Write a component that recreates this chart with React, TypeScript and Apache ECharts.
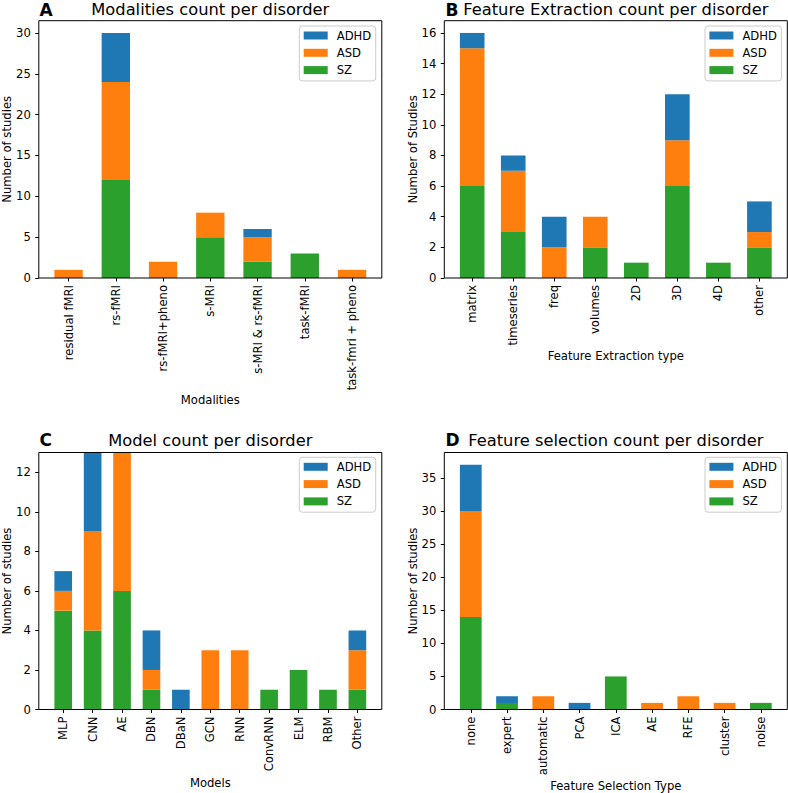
import React, { useEffect, useRef } from "react";
import * as echarts from "echarts";

// ---------- data ----------
const stackOrder = ["SZ", "ASD", "ADHD"];
const legendOrder = ["ADHD", "ASD", "SZ"];
const colorOf: Record<string, string> = { ADHD: "#1f77b4", ASD: "#ff7f0e", SZ: "#2ca02c" };

// A: modalities
const modalityCategories = ["residual fMRI", "rs-fMRI", "rs-fMRI+pheno", "s-MRI", "s-MRI & rs-fMRI", "task-fMRI", "task-fmri + pheno"];
const modalitySZ = [0, 12, 0, 5, 2, 3, 0];
const modalityASD = [1, 12, 2, 3, 3, 0, 1];
const modalityADHD = [0, 6, 0, 0, 1, 0, 0];
const modalityTicks = [0, 5, 10, 15, 20, 25, 30];

// B: feature extraction
const extractionCategories = ["matrix", "timeseries", "freq", "volumes", "2D", "3D", "4D", "other"];
const extractionSZ = [6, 3, 0, 2, 1, 6, 1, 2];
const extractionASD = [9, 4, 2, 2, 0, 3, 0, 1];
const extractionADHD = [1, 1, 2, 0, 0, 3, 0, 2];
const extractionTicks = [0, 2, 4, 6, 8, 10, 12, 14, 16];

// C: models
const modelCategories = ["MLP", "CNN", "AE", "DBN", "DBaN", "GCN", "RNN", "ConvRNN", "ELM", "RBM", "Other"];
const modelSZ = [5, 4, 6, 1, 0, 0, 0, 1, 2, 1, 1];
const modelASD = [1, 5, 7, 1, 0, 3, 3, 0, 0, 0, 2];
const modelADHD = [1, 4, 0, 2, 1, 0, 0, 0, 0, 0, 1];
const modelTicks = [0, 2, 4, 6, 8, 10, 12];

// D: feature selection
const selectionCategories = ["none", "expert", "automatic", "PCA", "ICA", "AE", "RFE", "cluster", "noise"];
const selectionSZ = [14, 1, 0, 0, 5, 0, 0, 0, 1];
const selectionASD = [16, 0, 2, 0, 0, 1, 2, 1, 0];
const selectionADHD = [7, 1, 0, 1, 0, 0, 0, 0, 0];
const selectionTicks = [0, 5, 10, 15, 20, 25, 30, 35];

// ---------- layout ----------
const FONT = "DejaVu Sans";
const FS = 11.6;

const panels = [
  {
    letter: "A", title: "Modalities count per disorder", xName: "Modalities", yName: "Number of studies",
    cats: modalityCategories, vals: { SZ: modalitySZ, ASD: modalityASD, ADHD: modalityADHD } as Record<string, number[]>,
    ticks: modalityTicks, yMax: 31.5, interval: 5,
    L: 38.8, R: 381.8, T: 20.7, B: 278, titleY: 9.2, letterX: 39.5, xNameY: 400, yNameX: 6.5,
    legendLeft: 299.3, legendTop: 26,
  },
  {
    letter: "B", title: "Feature Extraction count per disorder", xName: "Feature Extraction type", yName: "Number of Studies",
    cats: extractionCategories, vals: { SZ: extractionSZ, ASD: extractionASD, ADHD: extractionADHD } as Record<string, number[]>,
    ticks: extractionTicks, yMax: 16.8, interval: 2,
    L: 444.3, R: 787.3, T: 20.7, B: 278, titleY: 9.2, letterX: 445.5, xNameY: 356.2, yNameX: 412.5,
    legendLeft: 705, legendTop: 26,
  },
  {
    letter: "C", title: "Model count per disorder", xName: "Models", yName: "Number of studies",
    cats: modelCategories, vals: { SZ: modelSZ, ASD: modelASD, ADHD: modelADHD } as Record<string, number[]>,
    ticks: modelTicks, yMax: 13, interval: 2,
    L: 38.8, R: 381.8, T: 452.5, B: 709.5, titleY: 440, letterX: 39.5, xNameY: 782.7, yNameX: 6.5,
    legendLeft: 299.3, legendTop: 457.3,
  },
  {
    letter: "D", title: "Feature selection count per disorder", xName: "Feature Selection Type", yName: "Number of studies",
    cats: selectionCategories, vals: { SZ: selectionSZ, ASD: selectionASD, ADHD: selectionADHD } as Record<string, number[]>,
    ticks: selectionTicks, yMax: 38.85, interval: 5,
    L: 444.3, R: 787.3, T: 452.5, B: 709.5, titleY: 440, letterX: 445.5, xNameY: 786.2, yNameX: 412.5,
    legendLeft: 705, legendTop: 457.3,
  },
];

function geom(L: number, R: number, n: number) {
  const span = (n - 0.4) * 1.1;
  const unit = (R - L) / span;
  const inset = (0.05 * (n - 0.4) - 0.2) * unit;
  return { unit, gridLeft: L + inset, gridWidth: n * unit, offset: inset, barWidth: 0.6 * unit };
}

function buildOption() {
  const grid: any[] = [];
  const xAxis: any[] = [];
  const yAxis: any[] = [];
  const series: any[] = [];
  const legend: any[] = [];
  const graphic: any[] = [];

  panels.forEach((p, i) => {
    const g = geom(p.L, p.R, p.cats.length);
    grid.push({ left: g.gridLeft, top: p.T, width: g.gridWidth, height: p.B - p.T });
    xAxis.push({
      type: "category", gridIndex: i, data: p.cats,
      axisLine: { show: false },
      axisTick: { show: true, alignWithLabel: true, length: 3.5, lineStyle: { color: "#000", width: 1 } },
      axisLabel: { rotate: 90, interval: 0, margin: 7, fontSize: FS, fontFamily: FONT, color: "#000" },
      splitLine: { show: false },
    });
    yAxis.push({
      type: "value", gridIndex: i, min: 0, max: p.yMax, interval: p.interval, offset: g.offset,
      axisLine: { show: false },
      axisTick: { show: true, length: 3.5, customValues: p.ticks, lineStyle: { color: "#000", width: 1 } },
      axisLabel: { customValues: p.ticks, margin: 8, fontSize: FS, fontFamily: FONT, color: "#000" },
      splitLine: { show: false },
    });
    stackOrder.forEach((name) => {
      series.push({
        type: "bar", name, stack: "s" + i, xAxisIndex: i, yAxisIndex: i,
        data: p.vals[name], barWidth: g.barWidth,
        itemStyle: { color: colorOf[name] },
        emphasis: { disabled: true },
      });
    });
    legend.push({
      data: legendOrder, orient: "vertical", left: p.legendLeft, top: p.legendTop,
      icon: "rect", itemWidth: 24, itemHeight: 8, itemGap: 3.3,
      padding: [2.5, 4.5, 3.8, 4.4],
      borderColor: "#cccccc", borderWidth: 1, borderRadius: 3, backgroundColor: "rgba(255,255,255,0.8)",
      textStyle: { fontSize: FS, fontFamily: FONT, color: "#000", lineHeight: 14, padding: [0, 0, 0, 4] },
      selectedMode: false,
    });
    // frame
    graphic.push({
      type: "rect", z: 100, silent: true,
      shape: { x: p.L, y: p.T, width: p.R - p.L, height: p.B - p.T },
      style: { fill: "none", stroke: "#000", lineWidth: 1 },
    });
    // title
    graphic.push({
      type: "text", x: (p.L + p.R) / 2, y: p.titleY,
      style: { text: p.title, fontSize: 16.3, fontFamily: FONT, fill: "#000", align: "center", verticalAlign: "middle" },
    });
    graphic.push({
      type: "text", x: p.letterX, y: p.titleY + 0.3,
      style: { text: p.letter, fontSize: 17, fontWeight: "bold", fontFamily: FONT, fill: "#000", align: "left", verticalAlign: "middle" },
    });
    // axis names
    graphic.push({
      type: "text", x: (p.L + p.R) / 2, y: p.xNameY,
      style: { text: p.xName, fontSize: FS, fontFamily: FONT, fill: "#000", align: "center", verticalAlign: "middle" },
    });
    graphic.push({
      type: "text", x: p.yNameX, y: (p.T + p.B) / 2, rotation: Math.PI / 2,
      style: { text: p.yName, fontSize: FS, fontFamily: FONT, fill: "#000", align: "center", verticalAlign: "middle" },
    });
  });

  return {
    animation: false,
    backgroundColor: "#fff",
    textStyle: { fontFamily: FONT },
    grid, xAxis, yAxis, series, legend, graphic,
  };
}

export default function App() {
  const ref = useRef<HTMLDivElement>(null);
  useEffect(() => {
    if (!ref.current) return;
    const chart = echarts.init(ref.current, undefined, { renderer: "svg" });
    chart.setOption(buildOption() as any);
    return () => chart.dispose();
  }, []);
  return (
    <div
      ref={ref}
      style={{ position: "fixed", left: 0, top: 0, width: 788, height: 793, background: "#fff" }}
    />
  );
}
